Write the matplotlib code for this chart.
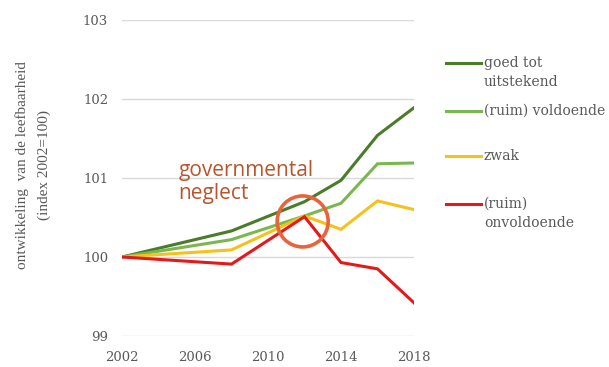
import matplotlib
matplotlib.use("Agg")
import matplotlib.pyplot as plt
from matplotlib.lines import Line2D
from matplotlib.patches import Ellipse

years = [2002, 2008, 2012, 2014, 2016, 2018]
goed = [100.0, 100.33, 100.70, 100.97, 101.54, 101.89]
voldoende = [100.0, 100.22, 100.52, 100.68, 101.18, 101.19]
zwak = [100.0, 100.09, 100.52, 100.35, 100.71, 100.60]
onvoldoende = [100.0, 99.91, 100.51, 99.93, 99.85, 99.42]
series_labels = ["goed tot\nuitstekend", "(ruim) voldoende", "zwak", "(ruim)\nonvoldoende"]
colors = ["#4a7c2a", "#7ab84f", "#f5c21b", "#e3191c"]
xticks = [2002, 2006, 2010, 2014, 2018]
yticks = [99, 100, 101, 102, 103]

W, H = 609, 367
fig = plt.figure(figsize=(W / 100, H / 100), dpi=100)
ax = fig.add_axes([122 / W, 1 - 336 / H, (414 - 122) / W, (336 - 20) / H])

serif = ["DejaVu Serif"]
grey = "#595959"

for vals, c in zip([goed, voldoende, zwak, onvoldoende], colors):
    ax.plot(years, vals, color=c, lw=2.2, solid_joinstyle="miter", zorder=3)

ax.set_xlim(2002, 2018)
ax.set_ylim(99, 103)
ax.set_xticks(xticks)
ax.set_yticks(yticks)
ax.grid(axis="y", color="#d9d9d9", lw=1)
ax.set_axisbelow(True)
for s in ax.spines.values():
    s.set_visible(False)
ax.tick_params(length=0, labelsize=9.5, labelcolor=grey)
for lab in ax.get_xticklabels() + ax.get_yticklabels():
    lab.set_family(serif)
ax.tick_params(axis="y", pad=10)
ax.tick_params(axis="x", pad=11)

# circle annotation (circle in pixel space)
circ = Ellipse((2011.9, 100.45), width=51 / 292 * 16, height=51 / 316 * 4,
               fill=False, edgecolor="#e8643c", lw=2.6, zorder=4)
ax.add_patch(circ)
ax.text(2005.1, 101.23, "governmental\nneglect", color="#b9552e", fontsize=15,
        family=["Open Sans", "DejaVu Sans"], va="top", ha="left", linespacing=1.15)

# y label
fig.text(22 / W, 1 - 165 / H, "ontwikkeling  van de leefbaarheid", rotation=90,
         ha="center", va="center", fontsize=11, color=grey,
         family=["Liberation Serif", "DejaVu Serif"])
fig.text(44 / W, 1 - 165 / H, "(index 2002=100)", rotation=90,
         ha="center", va="center", fontsize=11, color=grey,
         family=["Liberation Serif", "DejaVu Serif"])

# legend
leg_y = [63, 111, 156, 204]
for y, lab, c in zip(leg_y, series_labels, colors):
    fig.add_artist(Line2D([446 / W, 481 / W], [1 - y / H, 1 - y / H], color=c, lw=2.2))
    fig.text(484 / W, 1 - (y - 7) / H, lab, ha="left", va="top", fontsize=10,
             color=grey, family=serif, linespacing=1.45)

fig.savefig("out.png", dpi=100)
